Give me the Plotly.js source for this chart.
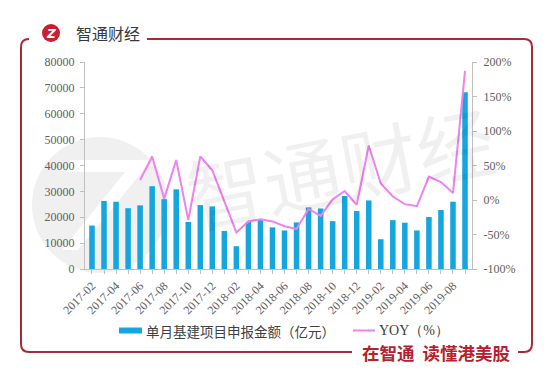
<!DOCTYPE html>
<html><head><meta charset="utf-8">
<script src="https://cdn.plot.ly/plotly-3.0.1.min.js"></script>
<style>html,body{margin:0;padding:0;background:#fff;} #chart{width:554px;height:386px;}</style>
</head><body><div id="chart"></div>
<script>
const months = ['2017-02','2017-03','2017-04','2017-05','2017-06','2017-07','2017-08','2017-09','2017-10','2017-11','2017-12',
  '2018-01','2018-02','2018-03','2018-04','2018-05','2018-06','2018-07','2018-08','2018-09','2018-10','2018-11','2018-12',
  '2019-01','2019-02','2019-03','2019-04','2019-05','2019-06','2019-07','2019-08','2019-09'];
const amount = [16800,26300,26000,23500,24600,32000,27000,30800,18200,24700,24200,
  14700,8800,18200,18900,16100,14900,18000,23800,23400,18500,28200,22400,
  26500,11500,18900,17900,14900,20100,22800,26000,68300];
const yoy = [null,null,null,null,29,63,2,58,-29,63,43,
  -2,-47,-31,-28,-31,-38,-42,-13,-23,1,13,-7,
  79,24,5,-6,-9,34,26,10,187];
const yTicks = [0,10000,20000,30000,40000,50000,60000,70000,80000];
const y2Ticks = [-100,-50,0,50,100,150,200];
const barName = '单月基建项目申报金额（亿元）';
const lineName = 'YOY（%）';
const brandText = '智通财经';
const sloganText = '在智通  读懂港美股';
const watermarkText = '智通财经';

// pixel -> paper helpers (plot area 85..472 x, 62..269 y)
const X0 = 85, W = 387, YB = 269, H = 207;
const fx = p => (p - X0) / W;
const fy = p => (YB - p) / H;

const red = '#a82a38';
const serif = 'Liberation Serif, Times New Roman, serif';
const cjk = 'Noto Sans CJK SC, sans-serif';
const tickColor = '#606060';

const traces = [
  {type:'bar', x: months, y: amount, name: barName, marker:{color:'#16a6de'}, showlegend:false, hoverinfo:'x+y'},
  {type:'scatter', mode:'lines', x: months, y: yoy, name: lineName, yaxis:'y2',
   line:{color:'#ee82ee', width:2}, connectgaps:false, showlegend:false}
];

function P(x,y){ return fx(x).toFixed(4)+','+fy(y).toFixed(4); }

const shapes = [
  {type:'circle', xref:'paper', yref:'paper', layer:'below',
   x0: fx(32), x1: fx(168), y0: fy(273), y1: fy(137), fillcolor:'#f0f0f0', line:{width:0}},
  {type:'path', xref:'paper', yref:'paper', layer:'below', fillcolor:'#ffffff', line:{width:0},
   path: 'M'+P(70,160)+' L'+P(150,160)+' L'+P(142,172)+' L'+P(78,250)+' L'+P(62,250)+' L'+P(125,172)+' L'+P(66,172)+' Z'},
  {type:'path', xref:'paper', yref:'paper', line:{color:red, width:2},
   path: 'M'+P(29,39)+' Q'+P(21,39)+' '+P(21,47)+' L'+P(21,344)+' Q'+P(21,352)+' '+P(29,352)+' L'+P(352,352)},
  {type:'path', xref:'paper', yref:'paper', line:{color:red, width:2},
   path: 'M'+P(518,352)+' L'+P(524,352)+' Q'+P(532,352)+' '+P(532,344)+' L'+P(532,47)+' Q'+P(532,39)+' '+P(524,39)+' L'+P(147,39)},
  {type:'circle', xref:'paper', yref:'paper', x0: fx(42), x1: fx(60), y0: fy(42), y1: fy(24),
   fillcolor:'#c8202e', line:{width:0}},
  {type:'rect', xref:'paper', yref:'paper', x0: fx(119), x1: fx(142), y0: fy(333.5), y1: fy(327.5),
   fillcolor:'#16a6de', line:{width:0}},
  {type:'line', xref:'paper', yref:'paper', x0: fx(353), x1: fx(375), y0: fy(330.5), y1: fy(330.5),
   line:{color:'#ee82ee', width:2}}
];

const annotations = [
  {xref:'paper', yref:'paper', x: fx(340), y: fy(165), text: watermarkText, showarrow:false,
   font:{family:cjk, size:78, color:'rgba(0,0,0,0.06)'}, textangle:-11, xanchor:'center', yanchor:'middle'},
  {xref:'paper', yref:'paper', x: fx(51), y: fy(33.5), text:'<b><i>Z</i></b>', showarrow:false,
   font:{family:'DejaVu Sans', size:12, color:'#ffffff'}, xanchor:'center', yanchor:'middle'},
  {xref:'paper', yref:'paper', x: fx(74), y: fy(33), text: brandText, showarrow:false,
   font:{family:cjk, size:16, color:'#3a3a3a'}, xanchor:'left', yanchor:'middle'},
  {xref:'paper', yref:'paper', x: fx(144), y: fy(330.5), text: barName, showarrow:false,
   font:{family:cjk, size:13.5, color:'#404040'}, xanchor:'left', yanchor:'middle'},
  {xref:'paper', yref:'paper', x: fx(377), y: fy(330.5), text: lineName, showarrow:false,
   font:{family:serif, size:14, color:'#404040'}, xanchor:'left', yanchor:'middle'},
  {xref:'paper', yref:'paper', x: fx(435.5), y: fy(352), text: '<b>'+sloganText+'</b>', showarrow:false,
   font:{family:cjk, size:17.5, color:'#b51f2e'}, xanchor:'center', yanchor:'middle'}
];

const layout = {
  width:554, height:386,
  margin:{l:85, r:82, t:62, b:117, pad:0},
  paper_bgcolor:'#ffffff', plot_bgcolor:'rgba(0,0,0,0)',
  bargap:0.54,
  showlegend:false,
  xaxis:{type:'category', range:[-0.58, 31.58], tickvals: months,
    ticktext: months.map((m,i) => i % 2 === 0 ? m : ''),
    tickangle:-45, tickfont:{family:serif, size:12, color:tickColor},
    showline:true, linecolor:'#bfbfbf', linewidth:1, ticks:'outside', ticklen:4, tickcolor:'#bfbfbf',
    showgrid:false, zeroline:false, fixedrange:true},
  yaxis:{range:[0,80000], tickvals:yTicks, ticktext: yTicks.map(String),
    tickfont:{family:serif, size:12, color:tickColor},
    showline:true, linecolor:'#bfbfbf', linewidth:1, ticks:'outside', ticklen:4, tickcolor:'#bfbfbf',
    showgrid:false, zeroline:false, ticklabelstandoff:3},
  yaxis2:{overlaying:'y', side:'right', range:[-100,200], tickvals:y2Ticks, ticktext: y2Ticks.map(v => v + '%'),
    tickfont:{family:serif, size:12, color:tickColor},
    showline:true, linecolor:'#bfbfbf', linewidth:1, ticks:'outside', ticklen:4, tickcolor:'#bfbfbf',
    showgrid:false, zeroline:false, ticklabelstandoff:4},
  shapes: shapes,
  annotations: annotations
};

Plotly.newPlot('chart', traces, layout, {displayModeBar:false, staticPlot:true});
</script></body></html>
